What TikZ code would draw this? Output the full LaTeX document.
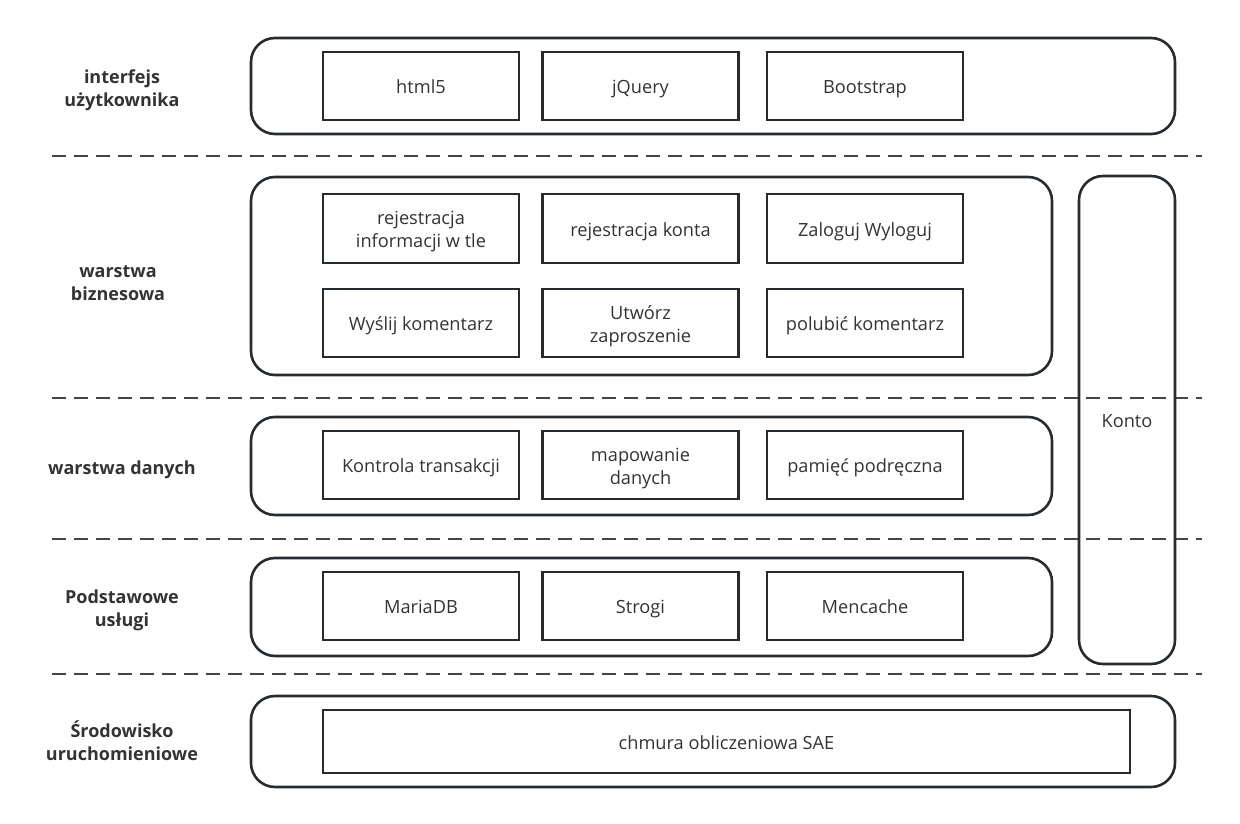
\documentclass[tikz,border=0pt]{standalone}
\usepackage{fontspec}
\setmainfont{Open Sans}
\definecolor{edge}{HTML}{262B30}
\definecolor{txt}{HTML}{333333}
\definecolor{dash}{HTML}{444444}
\newcommand{\tx}[2]{\raisebox{#1}[0pt][0pt]{\begin{tabular}{@{}c@{}}#2\end{tabular}}}
\begin{document}
\begin{tikzpicture}[x=1pt,y=-1pt,
  layer/.style={draw=edge,line width=2.6pt,rounded corners=24pt},
  item/.style={draw=edge,line width=2.2pt,text=txt,font=\fontsize{18.2}{23}\selectfont,inner sep=0pt},
  lbl/.style={text=txt,font=\fontsize{18}{23}\selectfont\bfseries,inner sep=0pt},
  sep/.style={draw=dash,line width=2.8pt,dash pattern=on 14pt off 8pt}]
\useasboundingbox (0,0) rectangle (1240,824);
% separators
\foreach \yy/\n in {156/a,398/b,539/c,674/d}{
  \coordinate (s\n l) at (52,\yy);
  \coordinate (s\n r) at (1202,\yy);
  \draw[sep] (s\n l) -- (s\n r);
}
% layers
\draw[layer] (251,38) rectangle (1175,134);
\draw[layer] (251,177) rectangle (1052,375);
\draw[layer] (251,417) rectangle (1052,515);
\draw[layer] (251,558) rectangle (1052,656);
\draw[layer] (251,696) rectangle (1175,787);
\draw[layer] (1079,176) rectangle (1175,664);
\node[text=txt,font=\fontsize{18.2}{23}\selectfont,inner sep=0pt] (konto) at (1127,420) {\tx{-7.5pt}{Konto}};
% labels
\node[lbl] (l1) at (122,87) {\tx{-7.5pt}{interfejs\\użytkownika}};
\node[lbl] (l2) at (118,281) {\tx{-7.5pt}{warstwa\\biznesowa}};
\node[lbl] (l3) at (122,467) {\tx{-7.5pt}{warstwa danych}};
\node[lbl] (l4) at (122,607) {\tx{-7.5pt}{Podstawowe\\usługi}};
\node[lbl] (l5) at (122,741) {\tx{-7.5pt}{Środowisko\\uruchomieniowe}};
% items
\newcommand{\itm}[5]{\node[item,minimum width=196pt,minimum height=#4pt] (#1) at (#2,#3) {\tx{-7.5pt}{#5}};}
\itm{html}{421}{86}{68}{html5}
\itm{jq}{640.5}{86}{68}{jQuery}
\itm{bs}{865}{86}{68}{Bootstrap}
\itm{rej}{421}{228.5}{69}{rejestracja\\informacji w tle}
\itm{rk}{640.5}{228.5}{69}{rejestracja konta}
\itm{zw}{865}{228.5}{69}{Zaloguj Wyloguj}
\itm{wk}{421}{323}{68}{Wyślij komentarz}
\itm{uz}{640.5}{323}{68}{Utwórz\\zaproszenie}
\itm{pk}{865}{323}{68}{polubić komentarz}
\itm{kt}{421}{465}{68}{Kontrola transakcji}
\itm{md}{640.5}{465}{68}{mapowanie\\danych}
\itm{pp}{865}{465}{68}{pamięć podręczna}
\itm{mdb}{421}{606}{68}{MariaDB}
\itm{st}{640.5}{606}{68}{Strogi}
\itm{mc}{865}{606}{68}{Mencache}
\node[item,minimum width=807pt,minimum height=63pt] (sae) at (726.5,741.5) {\tx{-7.5pt}{chmura obliczeniowa SAE}};
\end{tikzpicture}
\end{document}
